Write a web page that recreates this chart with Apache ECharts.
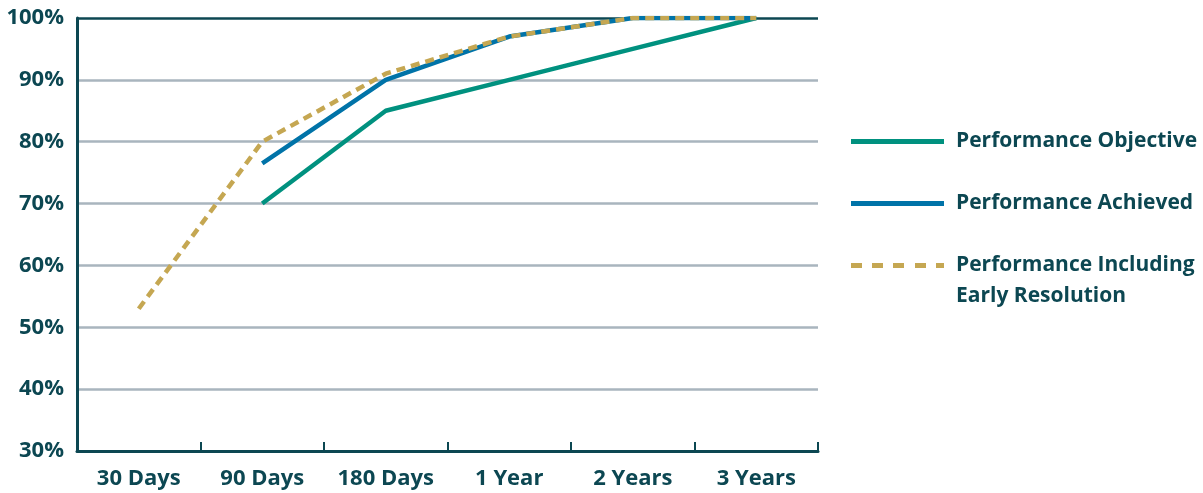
<!DOCTYPE html>
<html>
<head>
<meta charset="utf-8">
<script src="https://cdn.jsdelivr.net/npm/echarts@6/dist/echarts.min.js"></script>
<style>
html,body{margin:0;padding:0;background:#fff;}
#chart{width:1203px;height:493px;}
</style>
</head>
<body>
<div id="chart"></div>
<script>
const categories = ['30 Days', '90 Days', '180 Days', '1 Year', '2 Years', '3 Years'];
const objective = [null, 70, 85, 90, 95, 100];
const achieved = [null, 76.5, 90, 97, 100, 100];
const earlyResolution = [53, 80, 91, 97, 100, 100];
const seriesNames = ['Performance Objective', 'Performance Achieved', 'Performance Including\nEarly Resolution'];

const TXT = '#0c4752';
const FONT = '"Open Sans", "DejaVu Sans", sans-serif';
const colors = ['#00917f', '#0073a8', '#c5a752'];
const legendIcons = [
  'rect',
  'rect',
  'path://M0,0h11v5h-11z M21,0h11v5h-11z M42,0h11v5h-11z M64,0h11v5h-11z M85,0h8v5h-8z'
];

const chart = echarts.init(document.getElementById('chart'), null, {renderer: 'canvas'});

function legendFor(i, top) {
  return {
    data: [{name: seriesNames[i], icon: legendIcons[i]}],
    left: 851,
    top: top,
    padding: 0,
    orient: 'vertical',
    itemWidth: 93,
    itemHeight: 5,
    itemGap: 0,
    selectedMode: false,
    itemStyle: {color: colors[i], borderWidth: 0},
    formatter: function (name) { return i === 2 ? '\n' + name : name; },
    textStyle: {color: TXT, fontSize: 21, fontWeight: 'bold', fontFamily: FONT, lineHeight: 31, padding: [0, 0, 0, 7]}
  };
}

chart.setOption({
  animation: false,
  grid: {left: 77, right: 385, top: 18, bottom: 42, containLabel: false},
  legend: [legendFor(0, 126), legendFor(1, 188), legendFor(2, 219)],
  xAxis: {
    type: 'category',
    data: categories,
    boundaryGap: true,
    axisLine: {lineStyle: {color: TXT, width: 3}},
    axisTick: {show: true, inside: true, interval: 0, length: 9, lineStyle: {color: TXT, width: 2}},
    axisLabel: {color: TXT, fontSize: 22, fontWeight: 'bold', fontFamily: FONT, margin: 17, interval: 0, hideOverlap: false},
    splitLine: {show: false}
  },
  yAxis: {
    type: 'value',
    min: 30, max: 100, interval: 10,
    axisLine: {show: true, lineStyle: {color: TXT, width: 3}},
    axisTick: {show: false},
    axisLabel: {color: TXT, fontSize: 22, fontWeight: 'bold', fontFamily: FONT, margin: 13, formatter: '{value}%'},
    splitLine: {show: true, lineStyle: {color: ['#a9b5be', '#a9b5be', '#a9b5be', '#a9b5be', '#a9b5be', '#a9b5be', '#a9b5be', TXT], width: 2.5}}
  },
  series: [
    {name: seriesNames[0], type: 'line', data: objective, symbol: 'none', color: colors[0], lineStyle: {width: 4.5, color: colors[0]}},
    {name: seriesNames[1], type: 'line', data: achieved, symbol: 'none', color: colors[1], lineStyle: {width: 4.5, color: colors[1]}},
    {name: seriesNames[2], type: 'line', data: earlyResolution, symbol: 'none', color: colors[2], lineStyle: {width: 4.5, color: colors[2], type: [9, 6]}}
  ]
});
</script>
</body>
</html>
